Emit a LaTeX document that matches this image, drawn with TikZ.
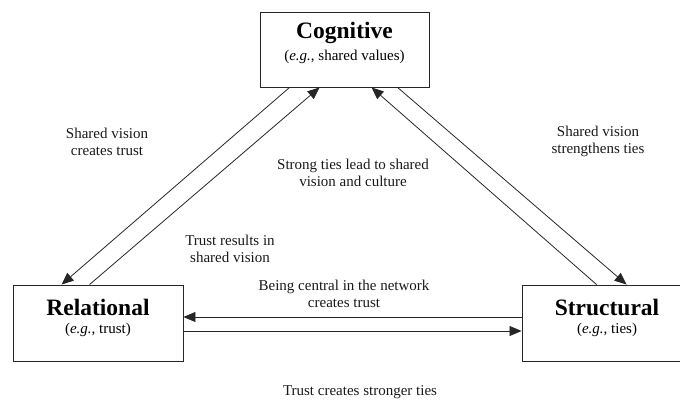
\documentclass[tikz,border=0pt]{standalone}
\usepackage{fontspec}
\setmainfont{Liberation Serif}
\usetikzlibrary{arrows.meta}
\begin{document}
\begin{tikzpicture}[x=1pt,y=-1pt,
  box/.style={draw=black!85,line width=0.9pt,rectangle,inner sep=0pt},
  title/.style={font=\fontsize{23.5}{26}\selectfont\bfseries,inner sep=0pt},
  sub/.style={font=\fontsize{15}{17}\selectfont,inner sep=0pt},
  lbl/.style={font=\fontsize{15}{17}\selectfont,align=center,inner sep=0pt,text=black!90},
  conn/.style={line width=0.8pt,draw=black!85,-{Triangle[length=12pt,width=10pt]}}]
\useasboundingbox (0,0) rectangle (680,401);
% boxes
\node[box,minimum width=169pt,minimum height=75pt] (cog) at (344.5,49.5) {};
\node[box,minimum width=170pt,minimum height=76pt] (rel) at (98,323) {};
\node[box,minimum width=170pt,minimum height=76pt] (str) at (607,323) {};
% box texts
\node[title] (cogt) at (344.5,33) {Cognitive};
\node[sub] (cogs) at (344.5,57) {(\textit{e.g.}, shared values)};
\node[title] (relt) at (98,307) {Relational};
\node[sub] (rels) at (98,330) {(\textit{e.g.}, trust)};
\node[title] (strt) at (607,307) {Structural};
\node[sub] (strs) at (607,330) {(\textit{e.g.}, ties)};
% connectors
\draw[conn] ([xshift=30pt]cog.south west) -- ([xshift=49pt]rel.north west);
\draw[conn] ([xshift=77pt]rel.north west) -- ([xshift=60pt]cog.south west);
\draw[conn] ([xshift=75pt]str.north west) -- ([xshift=112pt]cog.south west);
\draw[conn] ([xshift=138pt]cog.south west) -- ([xshift=105pt]str.north west);
\draw[conn] ([yshift=6pt]str.west) -- ([yshift=6pt]rel.east);
\draw[conn] ([yshift=-8pt]rel.east) -- ([yshift=-8pt]str.west);
% labels
\node[lbl] (l1) at (107,141.5) {Shared vision\\creates trust};
\node[lbl] (l2) at (353,173) {Strong ties lead to shared\\vision and culture};
\node[lbl] (l3) at (230,248.5) {Trust results in\\shared vision};
\node[lbl] (l4) at (598,141.5) {Shared vision\\strengthens ties};
\node[lbl] (l5) at (344,294) {Being central in the network\\creates trust};
\node[lbl] (l6) at (360,392) {Trust creates stronger ties};
\end{tikzpicture}
\end{document}
